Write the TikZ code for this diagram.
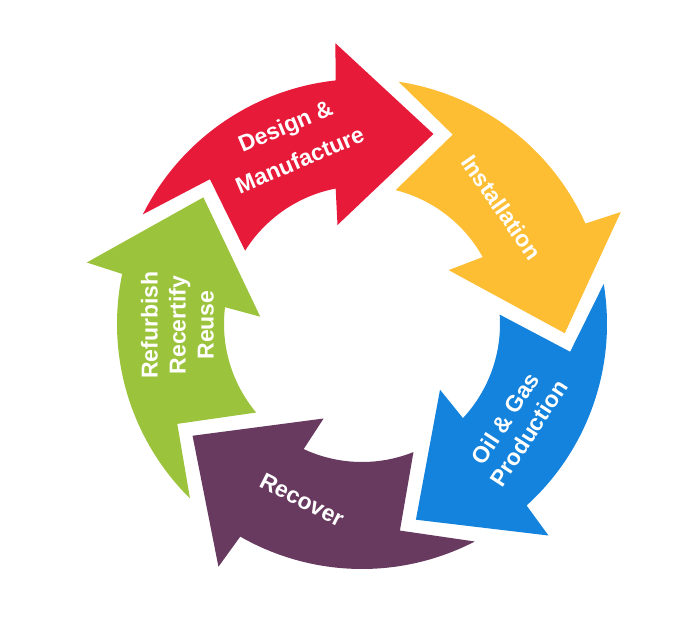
\documentclass[tikz,border=0pt]{standalone}
\usepackage{fontspec}
\setmainfont{Liberation Sans}

\definecolor{cyclered}{RGB}{232,26,58}
\definecolor{cycleyellow}{RGB}{253,190,52}
\definecolor{cycleblue}{RGB}{20,131,221}
\definecolor{cyclepurple}{RGB}{104,58,96}
\definecolor{cyclegreen}{RGB}{155,195,60}

\begin{document}
\begin{tikzpicture}[x=1pt,y=1pt,
    cycletext/.style={text=white, font=\fontsize{23}{28}\selectfont\bfseries, align=center}]

    % Fix the page size
    \useasboundingbox (-362,-296) rectangle (338,324);

    % Define the centre of the cycle
    \coordinate (O) at (0,0);

    % Red arrow (tip at 69.4 degrees)
    \fill[cyclered] (69.4:203) -- (95.4:282) -- (96.2:245)
        arc[start angle=96.2, end angle=153.4, radius=245] -- (136.4:210)
        -- (147.9:138) arc[start angle=147.9, end angle=101, radius=138]
        -- (103.9:102) -- cycle;

    % Yellow arrow (tip at -2.6 degrees)
    \fill[cycleyellow] (-2.6:203) -- (23.4:282) -- (24.2:245)
        arc[start angle=24.2, end angle=81.4, radius=245] -- (64.4:210)
        -- (75.9:138) arc[start angle=75.9, end angle=29, radius=138]
        -- (31.9:102) -- cycle;

    % Blue arrow (tip at -74.6 degrees)
    \fill[cycleblue] (-74.6:203) -- (-48.6:282) -- (-47.8:245)
        arc[start angle=-47.8, end angle=9.4, radius=245] -- (-7.6:210)
        -- (3.9:138) arc[start angle=3.9, end angle=-43, radius=138]
        -- (-40.1:102) -- cycle;

    % Purple arrow (tip at 213.4 degrees)
    \fill[cyclepurple] (213.4:203) -- (239.4:282) -- (240.2:245)
        arc[start angle=240.2, end angle=297.4, radius=245] -- (280.4:210)
        -- (291.9:138) arc[start angle=291.9, end angle=245, radius=138]
        -- (247.9:102) -- cycle;

    % Green arrow (tip at 141.4 degrees)
    \fill[cyclegreen] (141.4:203) -- (167.4:282) -- (168.2:245)
        arc[start angle=168.2, end angle=225.4, radius=245] -- (208.4:210)
        -- (219.9:138) arc[start angle=219.9, end angle=173, radius=138]
        -- (175.9:102) -- cycle;

    % Add the labels on the arrows
    \node[cycletext, rotate=23] (design) at (111:194) {Design \&\\[9pt]Manufacture};
    \node[cycletext, rotate=-55] (install) at (39.9:182) {Installation};
    \node[cycletext, rotate=57] (production) at (-33.3:185.5) {Oil \& Gas\\Production};
    \node[cycletext, rotate=-27] (recover) at (251.2:186) {Recover};
    \node[cycletext, rotate=90] (reuse) at (180.3:184.5) {Refurbish\\Recertify\\Reuse};

\end{tikzpicture}
\end{document}
